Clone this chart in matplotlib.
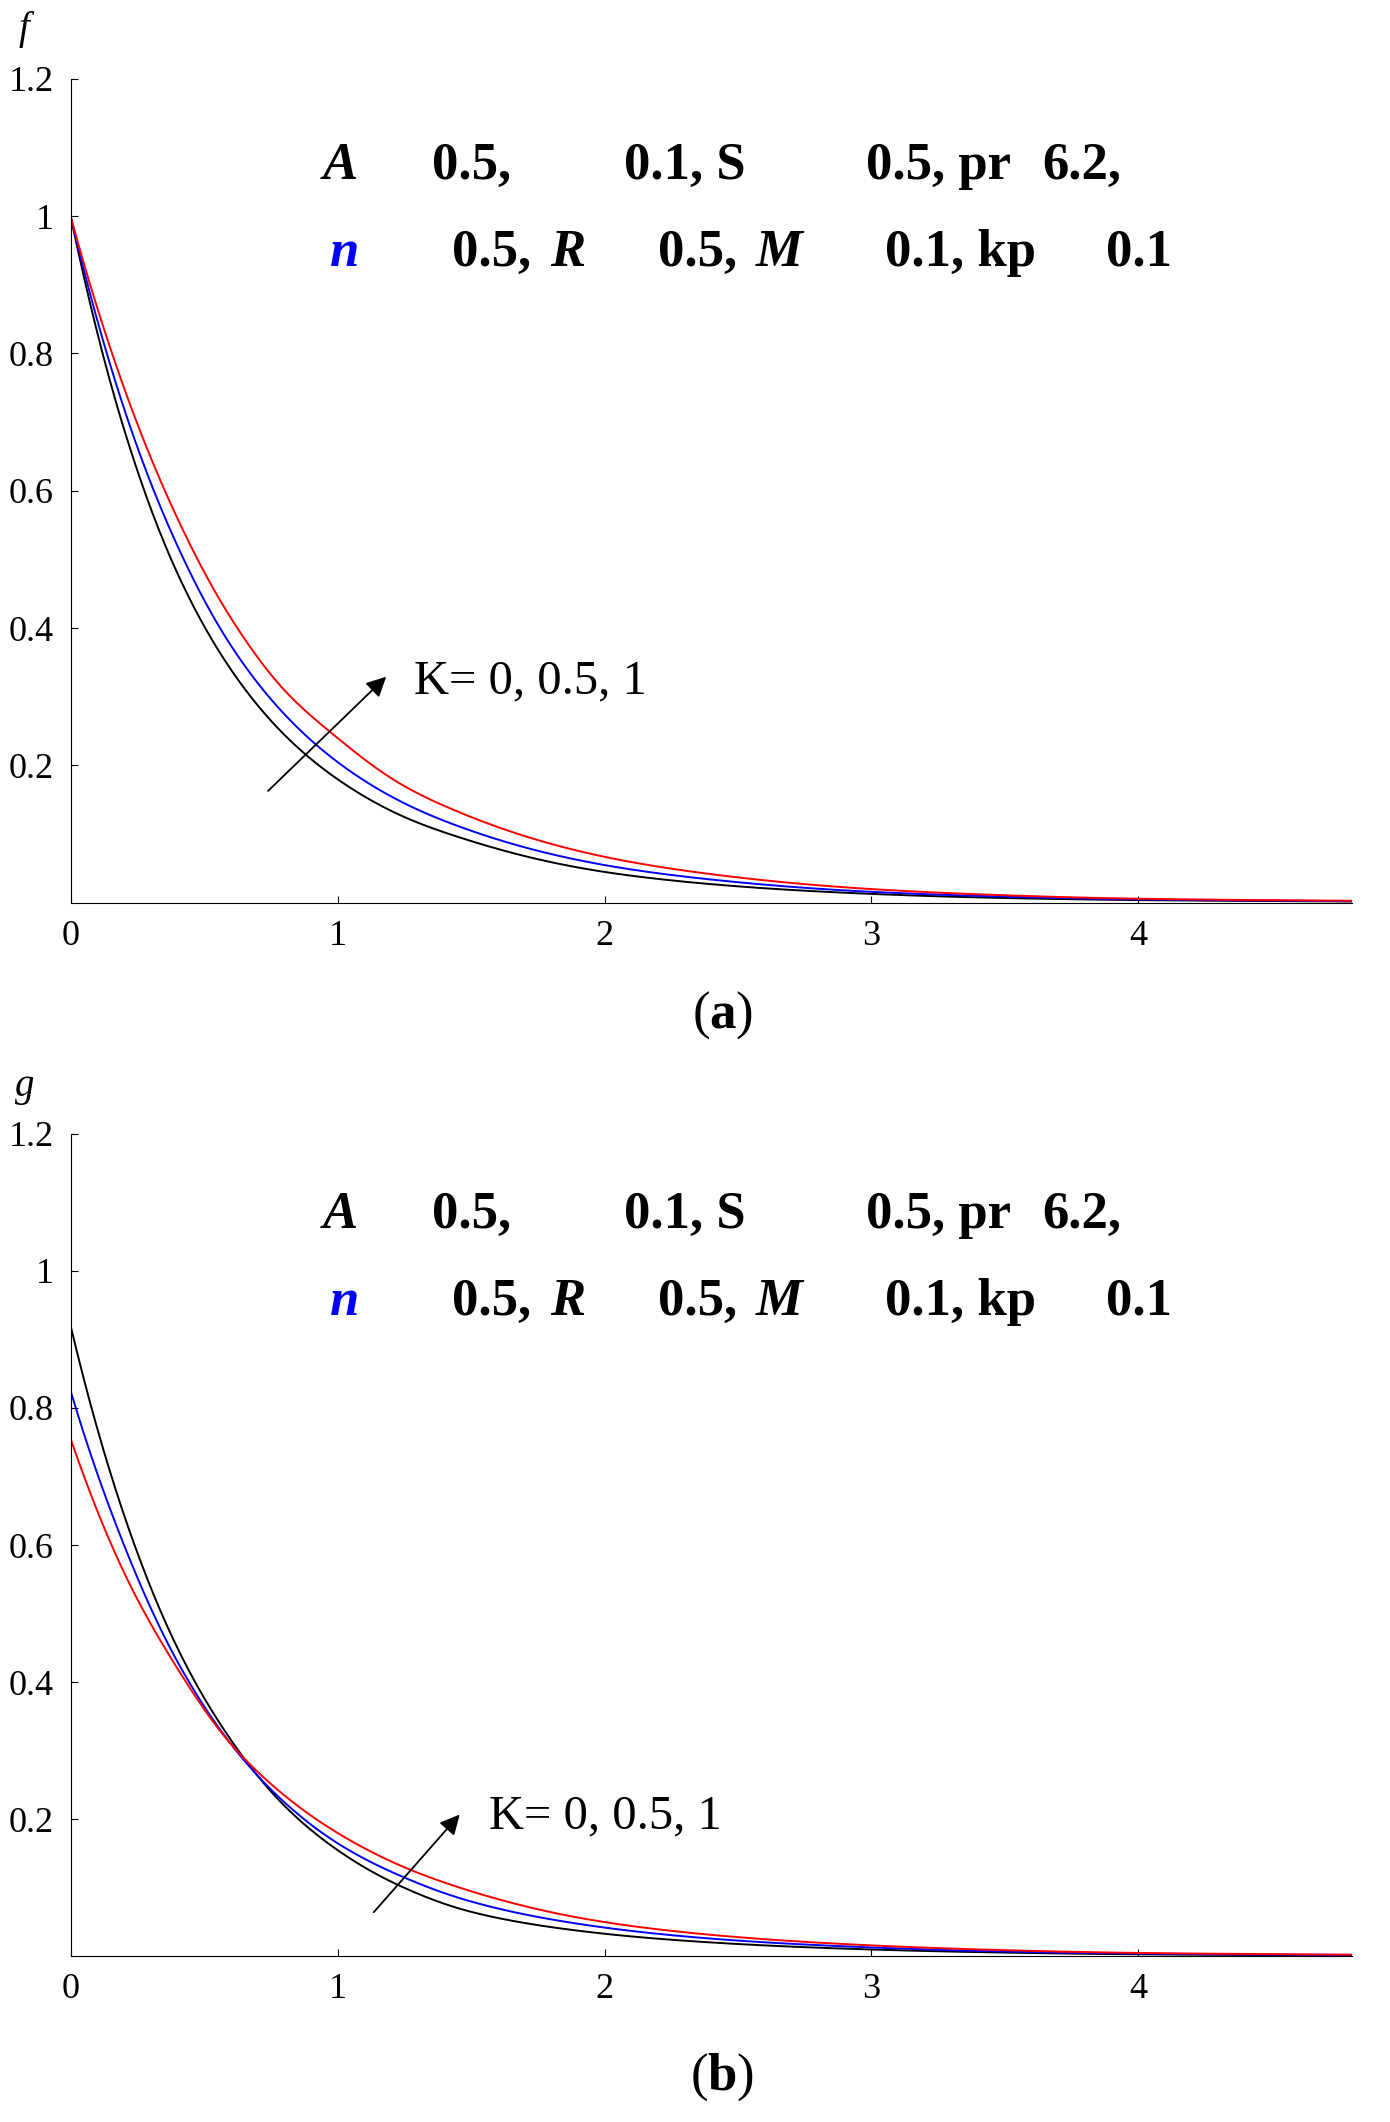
import numpy as np
import matplotlib
matplotlib.use("Agg")
import matplotlib.pyplot as plt

eta = [0, 0.2, 0.4, 0.6, 0.8, 1.0, 1.25, 1.5, 2.0, 2.5, 3.0, 3.5, 4.0, 4.8]
f_k0 = [1, 0.69, 0.48, 0.34, 0.245, 0.18, 0.125, 0.09, 0.045, 0.024, 0.013, 0.007, 0.004, 0.002]
f_k05 = [1, 0.72, 0.52, 0.375, 0.275, 0.205, 0.145, 0.105, 0.055, 0.03, 0.016, 0.009, 0.005, 0.0025]
f_k1 = [1, 0.75, 0.56, 0.415, 0.31, 0.24, 0.17, 0.125, 0.067, 0.037, 0.02, 0.011, 0.006, 0.003]
g_k0 = [0.92, 0.644, 0.45, 0.316, 0.22, 0.155, 0.1, 0.065, 0.033, 0.018, 0.01, 0.0055, 0.003, 0.0015]
g_k05 = [0.825, 0.6, 0.43, 0.31, 0.225, 0.165, 0.115, 0.08, 0.042, 0.023, 0.013, 0.007, 0.004, 0.002]
g_k1 = [0.755, 0.56, 0.42, 0.31, 0.235, 0.18, 0.13, 0.095, 0.05, 0.028, 0.016, 0.009, 0.005, 0.0025]
xticks = [0, 1, 2, 3, 4]
yticks = [0.2, 0.4, 0.6, 0.8, 1.0, 1.2]
yticklabels = ["0.2", "0.4", "0.6", "0.8", "1", "1.2"]

SER = ["Liberation Serif", "DejaVu Serif"]
plt.rcParams['font.family'] = SER
plt.rcParams['mathtext.fontset'] = 'custom'
plt.rcParams['mathtext.bf'] = 'Liberation Serif:bold'

W, H = 1024.0, 1563.0
fig = plt.figure(figsize=(13.9, 21.22), dpi=100)

def fx(x): return x / W
def fy(y): return 1 - y / H

def smooth(xs, ys):
    xs = np.asarray(xs, float); ly = np.log(np.asarray(ys, float))
    xx = np.linspace(xs[0], xs[-1], 800)
    # monotone cubic (PCHIP-like) in log space for smooth curves
    h = np.diff(xs); d = np.diff(ly) / h
    m = np.zeros_like(ly)
    for i in range(1, len(xs) - 1):
        if d[i-1] * d[i] > 0:
            w1 = 2*h[i] + h[i-1]; w2 = h[i] + 2*h[i-1]
            m[i] = (w1 + w2) / (w1/d[i-1] + w2/d[i])
    m[0] = d[0]; m[-1] = d[-1]
    idx = np.clip(np.searchsorted(xs, xx) - 1, 0, len(xs) - 2)
    t = (xx - xs[idx]) / h[idx]
    h00 = 2*t**3 - 3*t**2 + 1; h10 = t**3 - 2*t**2 + t
    h01 = -2*t**3 + 3*t**2; h11 = t**3 - t**2
    yy = h00*ly[idx] + h10*h[idx]*m[idx] + h01*ly[idx+1] + h11*h[idx]*m[idx+1]
    return xx, np.exp(yy)

def panel(rect, series, ylab, lab_y, off, arrow, ktext, cap, cap_y):
    ax = fig.add_axes(rect)
    for ys, c in series:
        xx, yy = smooth(eta, ys)
        ax.plot(xx, yy, color=c, lw=1.4)
    ax.set_xlim(0, 4.8); ax.set_ylim(0, 1.2)
    ax.spines['top'].set_visible(False); ax.spines['right'].set_visible(False)
    ax.set_xticks(xticks); ax.set_xticklabels([str(t) for t in xticks])
    ax.set_yticks(yticks); ax.set_yticklabels(yticklabels)
    ax.tick_params(direction='in', length=5, labelsize=26, pad=12)
    fig.text(fx(18), fy(lab_y), ylab, style='italic', fontsize=28, ha='center', va='center')
    rows = [
        [(238, "A", 'italic', 'k'), (318, "0.5,", 'normal', 'k'), (460, "0.1, S", 'normal', 'k'),
         (638, "0.5, pr", 'normal', 'k'), (768, "6.2,", 'normal', 'k')],
        [(243, "n", 'italic', 'blue'), (333, "0.5,", 'normal', 'k'), (405, "R", 'italic', 'k'),
         (485, "0.5,", 'normal', 'k'), (557, "M", 'italic', 'k'), (652, "0.1, kp", 'normal', 'k'),
         (815, "0.1", 'normal', 'k')],
    ]
    for ry, row in zip([122 + off, 186 + off], rows):
        for x, s, st, c in row:
            fig.text(fx(x), fy(ry), s, style=st, weight='bold', color=c,
                     fontsize=38, ha='left', va='center')
    (x0, y0, x1, y1) = arrow
    fig.add_artist(matplotlib.patches.FancyArrowPatch((fx(x0), fy(y0)), (fx(x1), fy(y1)),
                   transform=fig.transFigure, arrowstyle='-|>', mutation_scale=30, lw=1.3, color='k'))
    fig.text(fx(ktext[0]), fy(ktext[1]), "K= 0, 0.5, 1", fontsize=35, ha='left', va='center')
    fig.text(fx(532), fy(cap_y), cap, fontsize=38, ha='center', va='center')
    return ax

top = [fx(52), fy(665), fx(996) - fx(52), fy(58) - fy(665)]
bot = [fx(52), fy(1441), fx(996) - fx(52), fy(835) - fy(1441)]
panel(top, [(f_k0, 'black'), (f_k05, 'blue'), (f_k1, 'red')], "f", 22, 0,
      (196, 584, 286, 497), (305, 502), "($\\mathbf{a}$)", 748)
panel(bot, [(g_k0, 'black'), (g_k05, 'blue'), (g_k1, 'red')], "g", 800, 773,
      (274, 1410, 340, 1335), (360, 1338), "($\\mathbf{b}$)", 1530)
fig.savefig("out.png", dpi=100)
